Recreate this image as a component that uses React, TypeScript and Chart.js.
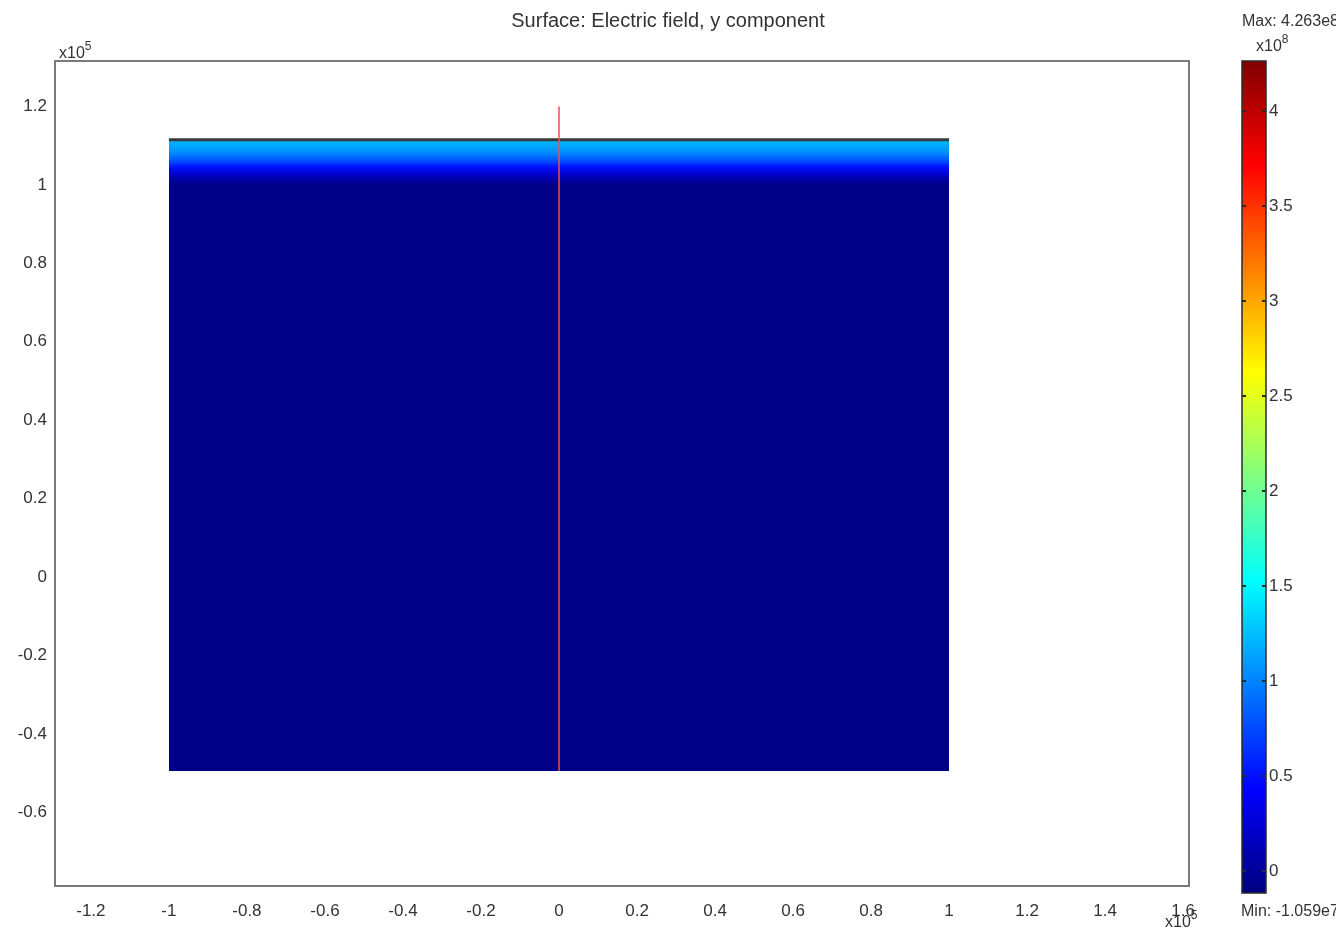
import React, { useEffect, useRef } from 'react';
import { Chart, registerables } from 'chart.js';
Chart.register(...registerables);

// ---- data ----
const xTicks = [-1.2, -1, -0.8, -0.6, -0.4, -0.2, 0, 0.2, 0.4, 0.6, 0.8, 1, 1.2, 1.4, 1.6];
const yTicks = [-0.6, -0.4, -0.2, 0, 0.2, 0.4, 0.6, 0.8, 1, 1.2];
const xRange = [-1.292, 1.615];
const yRange = [-0.788, 1.316];
const rectX = [-1, 1];
const rectY = [-0.495, 1.115];
const probeX = [0, 0];
const probeY = [-0.495, 1.2];
// field (y component, x10^8) across the top band of the domain
const bandY = [1.0, 1.015, 1.03, 1.045, 1.06, 1.075, 1.09, 1.11];
const bandV = [-0.085, 0.05, 0.25, 0.5, 0.75, 0.95, 1.1, 1.2];
const cbRange = [-0.116, 4.263];
const cbTicks = [0, 0.5, 1, 1.5, 2, 2.5, 3, 3.5, 4];
const jetStops = [0, 0.125, 0.375, 0.625, 0.875, 1];

const TITLE = 'Surface: Electric field, y component';
const MAX_TEXT = 'Max: 4.263e8';
const MIN_TEXT = 'Min: -1.059e7';
const FONT = '"Liberation Sans", Arial, sans-serif';

function clamp(v: number) { return Math.max(0, Math.min(1, v)); }
function jet(f: number) {
  const r = clamp(Math.min(4 * f - 1.5, -4 * f + 4.5));
  const g = clamp(Math.min(4 * f - 0.5, -4 * f + 3.5));
  const b = clamp(Math.min(4 * f + 0.5, -4 * f + 2.5));
  return `rgb(${Math.round(r * 255)},${Math.round(g * 255)},${Math.round(b * 255)})`;
}
function valFrac(v: number) { return (v - cbRange[0]) / (cbRange[1] - cbRange[0]); }
function fmt(v: number) { return String(parseFloat(v.toFixed(2))); }

function drawExp(ctx: CanvasRenderingContext2D, x: number, y: number, exp: string) {
  ctx.font = `16px ${FONT}`;
  ctx.fillText('x10', x, y);
  const w = ctx.measureText('x10').width;
  ctx.font = `12px ${FONT}`;
  ctx.fillText(exp, x + w, y - 8);
}

export default function App() {
  const mainRef = useRef<HTMLCanvasElement>(null);
  const cbRef = useRef<HTMLCanvasElement>(null);

  useEffect(() => {
    document.body.style.margin = '0';
    const mainCtx = mainRef.current!.getContext('2d')!;
    const cbCtx = cbRef.current!.getContext('2d')!;

    const framePlugin = {
      id: 'frame',
      afterDraw(chart: any) {
        const { ctx, chartArea: a } = chart;
        ctx.save();
        ctx.strokeStyle = '#7a7a7a';
        ctx.lineWidth = 2;
        ctx.strokeRect(a.left, a.top, a.right - a.left, a.bottom - a.top);
        ctx.fillStyle = '#333';
        ctx.textBaseline = 'alphabetic';
        ctx.textAlign = 'center';
        ctx.font = `20px ${FONT}`;
        ctx.fillText(TITLE, 668, 27);
        ctx.textAlign = 'left';
        drawExp(ctx, 59, 58, '5');
        drawExp(ctx, 1165, 927, '5');
        ctx.restore();
      },
    };

    const bandFill = (c: any) => {
      const chart = c.chart;
      const y = chart.scales?.y;
      if (!chart.chartArea || !y) return jet(valFrac(bandV[0]));
      const y0 = y.getPixelForValue(bandY[0]);
      const y1 = y.getPixelForValue(bandY[bandY.length - 1]);
      const g = chart.ctx.createLinearGradient(0, y0, 0, y1);
      bandY.forEach((v, i) => {
        const t = (y.getPixelForValue(v) - y0) / (y1 - y0);
        g.addColorStop(Math.max(0, Math.min(1, t)), jet(valFrac(bandV[i])));
      });
      return g;
    };

    const main = new Chart(mainCtx, {
      type: 'scatter',
      data: {
        datasets: [
          {
            label: 'probe',
            data: probeX.map((x, i) => ({ x, y: probeY[i] })),
            showLine: true,
            borderColor: 'rgba(235,80,80,0.75)',
            borderWidth: 2,
            pointRadius: 0,
            fill: false,
          },
          {
            label: 'domain',
            data: rectX.map((x) => ({ x, y: rectY[1] })),
            showLine: true,
            borderColor: '#3a3a3a',
            borderWidth: 3,
            pointRadius: 0,
            fill: { value: rectY[0] },
            backgroundColor: bandFill,
          },
        ],
      },
      options: {
        animation: false,
        responsive: false,
        events: [],
        layout: { padding: { left: 0, right: 147, top: 61, bottom: 0 } },
        plugins: {
          legend: { display: false },
          tooltip: { enabled: false },
          title: { display: false },
        },
        scales: {
          x: {
            type: 'linear',
            min: xRange[0],
            max: xRange[1],
            grid: { display: false, drawTicks: false },
            border: { display: false },
            afterBuildTicks: (s: any) => { s.ticks = xTicks.map((v) => ({ value: v })); },
            afterFit: (s: any) => { s.height = 48; },
            ticks: {
              autoSkip: false,
              maxRotation: 0,
              padding: 15,
              color: '#333',
              font: { family: FONT, size: 17 },
              callback: (v: any) => fmt(Number(v)),
            },
          },
          y: {
            type: 'linear',
            min: yRange[0],
            max: yRange[1],
            grid: { display: false, drawTicks: false },
            border: { display: false },
            afterBuildTicks: (s: any) => { s.ticks = yTicks.map((v) => ({ value: v })); },
            afterFit: (s: any) => { s.width = 55; },
            ticks: {
              autoSkip: false,
              padding: 8,
              color: '#333',
              font: { family: FONT, size: 17 },
              callback: (v: any) => fmt(Number(v)),
            },
          },
        },
      },
      plugins: [framePlugin],
    } as any);

    const cbFill = (c: any) => {
      const chart = c.chart;
      const y = chart.scales?.y;
      if (!chart.chartArea || !y) return jet(0.5);
      const y0 = y.getPixelForValue(cbRange[0]);
      const y1 = y.getPixelForValue(cbRange[1]);
      const g = chart.ctx.createLinearGradient(0, y0, 0, y1);
      jetStops.forEach((f) => g.addColorStop(f, jet(f)));
      return g;
    };

    const cbPlugin = {
      id: 'cbdecor',
      afterDraw(chart: any) {
        const { ctx, chartArea: a } = chart;
        const y = chart.scales.y;
        ctx.save();
        ctx.strokeStyle = '#2a2a2a';
        ctx.lineWidth = 1.5;
        ctx.strokeRect(a.left, a.top, a.right - a.left, a.bottom - a.top);
        ctx.lineWidth = 2;
        y.ticks.forEach((t: any) => {
          const py = y.getPixelForValue(t.value);
          ctx.beginPath();
          ctx.moveTo(a.left, py); ctx.lineTo(a.left + 4, py);
          ctx.moveTo(a.right - 4, py); ctx.lineTo(a.right, py);
          ctx.stroke();
        });
        ctx.fillStyle = '#333';
        ctx.textAlign = 'left';
        ctx.textBaseline = 'alphabetic';
        ctx.font = `16px ${FONT}`;
        ctx.fillText(MAX_TEXT, 12, 26);
        ctx.fillText(MIN_TEXT, 11, 916);
        drawExp(ctx, 26, 51, '8');
        ctx.restore();
      },
    };

    const cb = new Chart(cbCtx, {
      type: 'bar',
      data: {
        labels: ['colorbar'],
        datasets: [
          {
            data: [cbRange],
            backgroundColor: cbFill,
            borderWidth: 0,
            categoryPercentage: 1,
            barPercentage: 1,
          },
        ],
      },
      options: {
        animation: false,
        responsive: false,
        events: [],
        layout: { padding: { left: 12, right: 0, top: 61, bottom: 41 } },
        plugins: { legend: { display: false }, tooltip: { enabled: false } },
        scales: {
          x: { display: false },
          y: {
            type: 'linear',
            position: 'right',
            min: cbRange[0],
            max: cbRange[1],
            grid: { display: false, drawTicks: false },
            border: { display: false },
            afterBuildTicks: (s: any) => { s.ticks = cbTicks.map((v) => ({ value: v })); },
            afterFit: (s: any) => { s.width = 70; },
            ticks: {
              autoSkip: false,
              padding: 3,
              color: '#333',
              font: { family: FONT, size: 17 },
              callback: (v: any) => fmt(Number(v)),
            },
          },
        },
      },
      plugins: [cbPlugin],
    } as any);

    main.update();
    cb.update();

    return () => { main.destroy(); cb.destroy(); };
  }, []);

  return (
    <div style={{ position: 'relative', width: 1336, height: 934, background: '#fff' }}>
      <canvas ref={mainRef} width={1336} height={934} style={{ position: 'absolute', left: 0, top: 0, width: 1336, height: 934 }} />
      <canvas ref={cbRef} width={106} height={934} style={{ position: 'absolute', left: 1230, top: 0, width: 106, height: 934 }} />
    </div>
  );
}
